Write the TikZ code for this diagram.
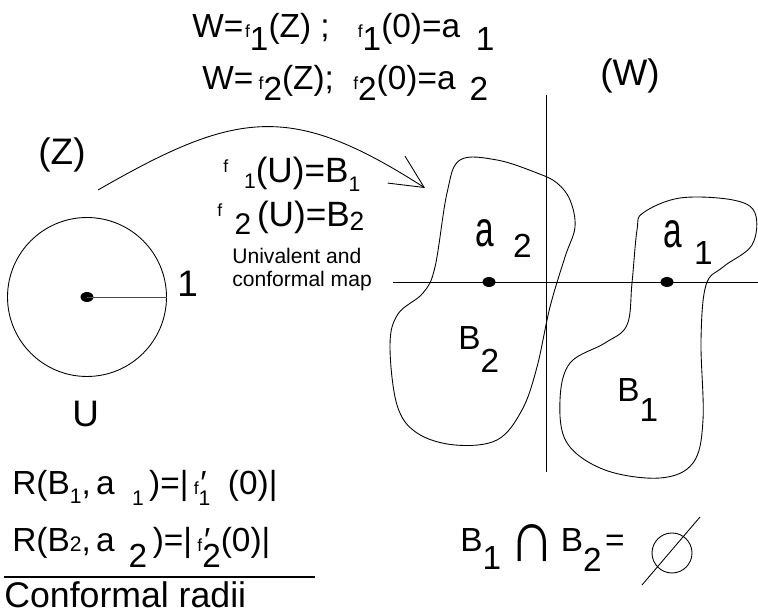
\documentclass[tikz,border=0pt]{standalone}
\usepackage{fontspec}
\setmainfont{Liberation Sans}
\usepackage{graphicx}
\usetikzlibrary{arrows.meta, positioning, shapes.geometric}

\newcommand{\smf}{{\fontsize{10}{10}\selectfont f}}
\newcommand{\lowr}[2][7pt]{\raisebox{-#1}{#2}}
\newcommand{\smd}[1]{{\fontsize{12}{12}\selectfont #1}}
\newcommand{\biga}{\scalebox{1}[1.5]{a}}
\newcommand{\prsub}[2][3pt]{\rlap{\hspace{1pt}′}\lowr[#1]{#2}}

\begin{document}
\begin{tikzpicture}[x=0.02cm, y=-0.02cm,
  txt/.style={inner sep=0pt, anchor=base west, font=\fontsize{19}{21}\selectfont},
  bigtxt/.style={txt, font=\fontsize{21}{23}\selectfont},
  note/.style={inner sep=0pt, anchor=north west, align=left, font=\fontsize{12}{13}\selectfont},
  outline/.style={line width=0.5pt},
  pt/.style={ellipse, fill, inner sep=0pt, minimum width=0.26cm, minimum height=0.2cm}
]
  \useasboundingbox (0,0) rectangle (758,614);

  \node[txt] (map1) at (192,38) {W=\hspace{1pt}\smf\lowr{1}(Z) ;\hspace{16pt}\smf\lowr{1}(0)=a\hspace{9pt}\lowr{1}};
  \node[txt] (map2) at (202,90) {W=\hspace{3pt}\smf\lowr[6pt]{2}(Z);\hspace{11pt}\smf\lowr[6pt]{2}(0)=a\hspace{8pt}\lowr[6pt]{2}};
  \node[bigtxt, anchor=center] (zplane) at (62,155) {(Z)};
  \node[bigtxt, anchor=center] (wplane) at (630,76) {(W)};

  % unit disk
  \node[draw, outline, circle, inner sep=0pt, minimum size=3.18cm] (disk) at (87,297) {};
  \node[pt] (origin) at (disk.center) {};
  \draw[outline, black!70] (origin.center) -- (disk.east);
  \node[bigtxt] (one) at (177,297) {1};
  \node[bigtxt] (udisk) at (72,427) {U};

  \coordinate (mapfrom) at (98,190);
  \coordinate (mapto) at (425,188);
  \draw[outline, -{Straight Barb[length=6.6mm, width=6.4mm]}] (mapfrom) .. controls (237,110) and (291,102) .. (mapto);

  \node[txt, font=\fontsize{20}{22}\selectfont] (img1) at (223,183) {\raisebox{6pt}{\smf}\hspace{9pt}\lowr[3pt]{\smd{1}}(U)=B\lowr[5pt]{\smd{1}}};
  \node[txt, font=\fontsize{20}{22}\selectfont] (img2) at (217,227) {\raisebox{6pt}{\smf}\hspace{7pt}\lowr[4pt]{\fontsize{17}{17}\selectfont 2}\,(U)=B\lowr[2pt]{\fontsize{15}{15}\selectfont 2}};
  \node[note] (maptype) at (232,248) {Univalent and\\conformal map};

  % w-plane
  \draw[outline] (393,282) -- (758,282);
  \draw[outline] (546,95) -- (546,472);
  \draw[outline] plot[smooth cycle, tension=0.6] coordinates {
    (460,160) (497,160) (537,173) (557,183) (570,200) (575,227) (565,257)
    (550,307) (537,367) (522,410) (497,440) (455,445) (417,433) (397,405)
    (390,345) (398,314) (423,293) (435,267) (447,193)};
  \draw[outline] plot[smooth cycle, tension=0.6] coordinates {
    (643,213) (680,198) (733,200) (755,213) (752,245) (723,267) (706,285)
    (701,340) (703,420) (693,463) (660,478) (605,470) (567,443) (560,400)
    (570,363) (605,343) (627,325) (632,283) (637,230)};
  \node[pt] (a2pt) at (489,282) {};
  \node[pt] (a1pt) at (667,282) {};
  \node[txt] (a2lbl) at (475,247) {\biga\hspace{11pt}\lowr[6pt]{2}};
  \node[txt] (a1lbl) at (663,248) {\biga\hspace{7pt}\lowr[9.5pt]{1}};
  \node[txt] (b2lbl) at (458,350) {B\lowr[13pt]{2}};
  \node[txt] (b1lbl) at (617,402) {B\lowr[11pt]{1}};

  % radii
  \node[txt] (rad1) at (12,495) {R(B\lowr[5pt]{\smd{1}},\hspace{3pt}a\hspace{10pt}\lowr[6pt]{\smd{1}}\hspace{3pt})=|\hspace{3pt}\smf\prsub[6pt]{\smd{1}}\hspace{10pt}(0)|};
  \node[txt] (rad2) at (12,552) {R(B\smd{2},\hspace{3pt}a\hspace{8pt}\lowr[9pt]{2}\,)=|\hspace{3pt}\smf\prsub[9pt]{2}(0)|};
  \draw[line width=1.1pt] (4,577) -- (315,577);
  \node[txt, font=\fontsize{20.3}{22}\selectfont] (radii) at (4,608) {Conformal radii};

  \node[txt] (cap) at (460,552) {B\lowr[10pt]{1}\hspace{5pt}\raisebox{-5.5pt}{\scalebox{1.9}[2.2]{∩}}\hspace{3pt}B\lowr[11pt]{2}\hspace{2pt}=};
  \node[draw, outline, circle, inner sep=0pt, minimum size=0.8cm] (empty) at (672,553) {};
  \draw[outline] (642,585) -- (700,517);
\end{tikzpicture}
\end{document}
